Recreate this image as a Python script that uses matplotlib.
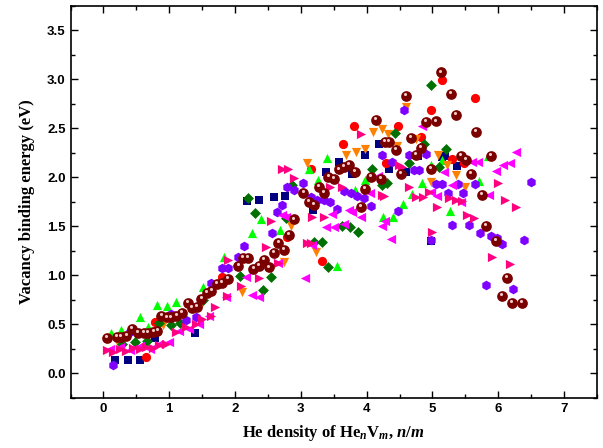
import matplotlib
matplotlib.use("Agg")
import matplotlib.pyplot as plt
import matplotlib.transforms as mtransforms
import numpy as np

plt.rcParams['mathtext.fontset'] = 'custom'
plt.rcParams['mathtext.rm'] = 'Liberation Serif:bold'
plt.rcParams['mathtext.it'] = 'Liberation Serif:bold:italic'

# navy squares
sq_x = [0.18, 0.38, 0.56, 0.78, 1.39, 2.18, 2.37, 2.59, 2.76, 3.18, 3.38, 3.58, 3.77, 3.97,
        4.19, 4.34, 4.6, 4.78, 4.98, 5.14, 5.19, 5.37]
sq_y = [0.14, 0.14, 0.14, 0.36, 0.41, 1.76, 1.77, 1.8, 1.81, 1.67, 2.05, 2.16, 2.03, 2.23,
        2.34, 2.08, 2.05, 2.22, 1.35, 2.21, 2.22, 2.12]

# red circles
rc_x = [0.64, 0.79, 1.8, 2.79, 3.15, 3.32, 3.64, 3.8, 4.3, 4.47, 4.82, 4.98, 5.14, 5.3, 5.48, 5.65]
rc_y = [0.17, 0.52, 0.98, 1.39, 2.08, 1.15, 2.34, 2.52, 2.15, 2.52, 2.41, 2.69, 2.99, 2.19, 2.15, 2.81]

# green up triangles
gt_x = [0.12, 0.26, 0.55, 0.68, 0.82, 0.97, 1.11, 1.52, 1.83, 2.25, 2.4, 2.69, 3.12, 3.26,
        3.39, 3.55, 3.83, 3.97, 4.25, 4.4, 4.55, 4.69, 4.84, 4.98, 5.14, 5.27, 5.71, 5.84]
gt_y = [0.41, 0.44, 0.57, 0.47, 0.7, 0.69, 0.73, 0.88, 1.19, 1.43, 1.57, 1.46, 2.09, 1.97,
        2.2, 1.1, 1.87, 1.97, 1.6, 1.6, 1.73, 1.83, 1.94, 2.13, 2.18, 1.66, 1.96, 2.22]

# orange down triangles
ot_x = [0.2, 0.9, 1.5, 2.1, 2.74, 2.85, 3.09, 3.23, 3.68, 3.84, 3.97, 4.09, 4.24, 4.32, 4.46,
        4.6, 4.75, 4.98, 5.08, 5.22, 5.36, 5.49]
ot_y = [0.33, 0.49, 0.72, 0.83, 1.14, 1.5, 2.15, 1.24, 2.23, 2.26, 2.29, 2.46, 2.49, 2.44, 2.32,
        2.72, 2.39, 1.95, 2.23, 2.13, 2.02, 1.9]

# dark green diamonds
dd_x = [0.28, 0.48, 0.66, 0.84, 1.02, 1.17, 1.52, 2.07, 2.19, 2.31, 2.42, 2.54, 2.77, 2.86,
        3.2, 3.32, 3.41, 3.62, 3.75, 3.87, 4.08, 4.23, 4.31, 4.43, 4.64, 4.87, 4.98, 5.1, 5.2]
dd_y = [0.3, 0.32, 0.33, 0.51, 0.49, 0.51, 0.75, 0.99, 1.79, 1.64, 0.85, 0.98, 1.59, 1.92,
        1.34, 1.34, 1.08, 1.5, 1.49, 1.44, 2.08, 1.92, 1.94, 2.45, 2.15, 2.34, 2.94, 2.11, 2.29]

# purple hexagons
ph_x = [0.14, 0.41, 1.03, 1.25, 1.4, 1.64, 1.8, 1.9, 2.05, 2.13, 2.56, 2.63, 2.71, 2.79, 2.89,
        3.04, 3.15, 3.24, 3.35, 3.45, 3.55, 3.65, 3.76, 3.85, 3.96, 4.06, 4.23, 4.38, 4.47, 4.57,
        4.64, 4.72, 4.8, 4.9, 4.98, 5.05, 5.14, 5.24, 5.3, 5.39, 5.46, 5.56, 5.65, 5.72, 5.81,
        5.89, 5.98, 6.06, 6.23, 6.39, 6.5]
ph_y = [0.09, 0.42, 0.61, 0.54, 0.57, 0.92, 1.07, 1.07, 1.19, 1.3, 1.43, 1.65, 1.72, 1.9, 1.87,
        1.94, 1.8, 1.77, 1.77, 1.75, 1.68, 1.86, 1.84, 1.81, 1.79, 1.71, 2.23, 2.16, 1.66, 2.69,
        2.23, 2.07, 2.07, 2.24, 1.36, 1.93, 1.93, 1.84, 1.51, 1.93, 1.84, 1.51, 1.93, 1.43, 0.9,
        1.4, 1.38, 1.32, 0.86, 1.36, 1.95]

# magenta left triangles
ml_x = [0.1, 0.25, 0.4, 0.55, 0.7, 0.85, 1.0, 1.15, 1.3, 1.45, 1.6, 1.86, 2.16, 2.25, 2.36,
        2.66, 2.71, 2.77, 3.06, 3.17, 3.38, 3.47, 3.5, 3.65, 3.73, 3.78, 3.91, 4.05, 4.17, 4.23,
        4.28, 4.37, 4.84, 4.98, 5.07, 5.18, 5.3, 5.43, 5.6, 5.69, 5.86, 5.97, 6.07, 6.18, 6.27]
ml_y = [0.25, 0.27, 0.24, 0.28, 0.25, 0.3, 0.32, 0.43, 0.45, 0.5, 0.58, 0.78, 0.98, 0.8, 0.78,
        1.13, 1.62, 1.6, 0.97, 1.31, 1.49, 1.63, 1.49, 1.52, 1.67, 1.65, 1.6, 1.84, 2.01, 1.5,
        1.55, 1.37, 2.52, 1.85, 1.81, 2.05, 1.92, 1.75, 2.16, 2.16, 1.82, 2.06, 2.13, 2.15, 2.26]

# pink right triangles
pr_x = [0.05, 0.15, 0.25, 0.35, 0.45, 0.55, 0.65, 0.75, 0.85, 0.95, 1.1, 1.25, 1.4, 1.5, 1.63,
        1.7, 1.87, 1.9, 2.09, 2.36, 2.47, 2.54, 2.66, 2.71, 2.8, 2.89, 3.1, 3.16, 3.17, 3.35,
        3.45, 3.62, 3.91, 4.23, 4.26, 4.49, 4.54, 4.64, 4.75, 4.86, 4.95, 4.99, 5.07, 5.25, 5.36,
        5.45, 5.53, 5.63, 5.9, 6.0, 6.1, 6.18, 6.27]
pr_y = [0.24, 0.22, 0.25, 0.23, 0.26, 0.25, 0.27, 0.26, 0.29, 0.3, 0.42, 0.47, 0.5, 0.55, 0.59,
        0.68, 0.79, 1.16, 0.89, 0.97, 1.29, 1.55, 1.13, 2.08, 2.09, 1.99, 1.33, 1.33, 1.6, 1.6,
        1.9, 1.9, 2.44, 1.82, 1.81, 2.13, 2.11, 1.9, 1.8, 1.8, 1.85, 1.44, 1.7, 1.79, 1.77,
        1.76, 1.62, 1.59, 1.19, 1.94, 1.77, 1.12, 1.7]

# maroon spheres
mb_x = [0.05, 0.2, 0.27, 0.35, 0.43, 0.53, 0.61, 0.68, 0.76, 0.82, 0.88, 0.96, 1.03, 1.11, 1.19,
        1.28, 1.34, 1.42, 1.49, 1.57, 1.64, 1.72, 1.8, 1.89, 2.05, 2.12, 2.19, 2.28, 2.36, 2.44,
        2.51, 2.59, 2.66, 2.74, 2.82, 2.89, 3.04, 3.12, 3.2, 3.27, 3.35, 3.42, 3.5, 3.58, 3.65,
        3.73, 3.82, 3.91, 3.97, 4.06, 4.14, 4.22, 4.28, 4.34, 4.44, 4.52, 4.6, 4.67, 4.75, 4.83,
        4.9, 4.98, 5.05, 5.13, 5.28, 5.36, 5.43, 5.51, 5.59, 5.66, 5.75, 5.81, 5.89, 5.97, 6.06,
        6.13, 6.21, 6.36]
mb_y = [0.36, 0.37, 0.37, 0.38, 0.45, 0.41, 0.41, 0.41, 0.42, 0.43, 0.59, 0.57, 0.57, 0.59, 0.62,
        0.72, 0.67, 0.68, 0.76, 0.82, 0.84, 0.91, 0.92, 0.96, 1.1, 1.18, 1.18, 1.06, 1.1, 1.16,
        1.08, 1.23, 1.33, 1.26, 1.41, 1.57, 1.84, 1.75, 1.72, 1.9, 1.84, 2.0, 1.98, 2.08, 2.11,
        2.13, 2.05, 1.7, 1.88, 2.0, 2.59, 1.98, 2.36, 2.36, 2.28, 2.03, 2.83, 2.4, 2.23, 2.3,
        2.56, 2.09, 2.57, 3.07, 2.85, 2.64, 2.22, 2.18, 2.03, 2.46, 1.82, 1.5, 2.22, 1.35, 0.79,
        0.97, 0.72, 0.72]

fig = plt.figure(figsize=(6.03, 4.48), dpi=100)
ax = fig.add_axes([0.117, 0.112, 0.873, 0.875])

ms = 44
ax.scatter(sq_x, sq_y, marker='s', s=ms * 0.8, color='#000080', lw=0, zorder=3)
ax.scatter(rc_x, rc_y, marker='o', s=ms, color='#ff0000', lw=0, zorder=3)
ax.scatter(gt_x, gt_y, marker='^', s=ms, color='#00ff00', lw=0, zorder=3)
ax.scatter(ot_x, ot_y, marker='v', s=ms, color='#ff8000', lw=0, zorder=3)
ax.scatter(dd_x, dd_y, marker='D', s=ms * 0.7, color='#007000', lw=0, zorder=3)
ax.scatter(ph_x, ph_y, marker='h', s=ms * 1.1, color='#8000ff', lw=0, zorder=3)
ax.scatter(ml_x, ml_y, marker='<', s=ms, color='#ff00ff', lw=0, zorder=3)
ax.scatter(pr_x, pr_y, marker='>', s=ms, color='#ff0080', lw=0, zorder=3)
ax.scatter(mb_x, mb_y, marker='o', s=ms * 1.35, color='#7a0000', lw=0, zorder=4)
# small highlight dot on each sphere
hl = mtransforms.offset_copy(ax.transData, fig=fig, x=-0.6, y=1.4, units='points')
ax.scatter(mb_x, mb_y, marker='o', s=5, color='#f0c8c8', lw=0, zorder=5, transform=hl)

ax.set_xlim(-0.5, 7.5)
ax.set_ylim(-0.25, 3.75)
ax.set_xticks(np.arange(0, 8, 1))
ax.set_xticks(np.arange(-0.5, 7.6, 0.5), minor=True)
ax.set_yticks(np.arange(0, 3.6, 0.5))
ax.set_yticks(np.arange(-0.25, 3.76, 0.25), minor=True)
ax.set_yticklabels(['%.1f' % v for v in np.arange(0, 3.6, 0.5)])
ax.tick_params(which='both', direction='in', top=True, right=True, width=1)
ax.tick_params(which='major', length=5)
ax.tick_params(which='minor', length=3)
for lbl in ax.get_xticklabels() + ax.get_yticklabels():
    lbl.set_fontfamily('Liberation Sans')
    lbl.set_fontweight('bold')
    lbl.set_fontsize(9.5)
for sp in ax.spines.values():
    sp.set_linewidth(1.2)

ax.set_ylabel('Vacancy binding energy (eV)', fontfamily='Liberation Serif',
              fontweight='bold', fontsize=12, labelpad=9)
ax.set_xlabel(r'He density of He$_n$V$_m$, $n/m$', fontfamily='Liberation Serif',
              fontweight='bold', fontsize=12, labelpad=6)

fig.savefig('out.png', dpi=100)
